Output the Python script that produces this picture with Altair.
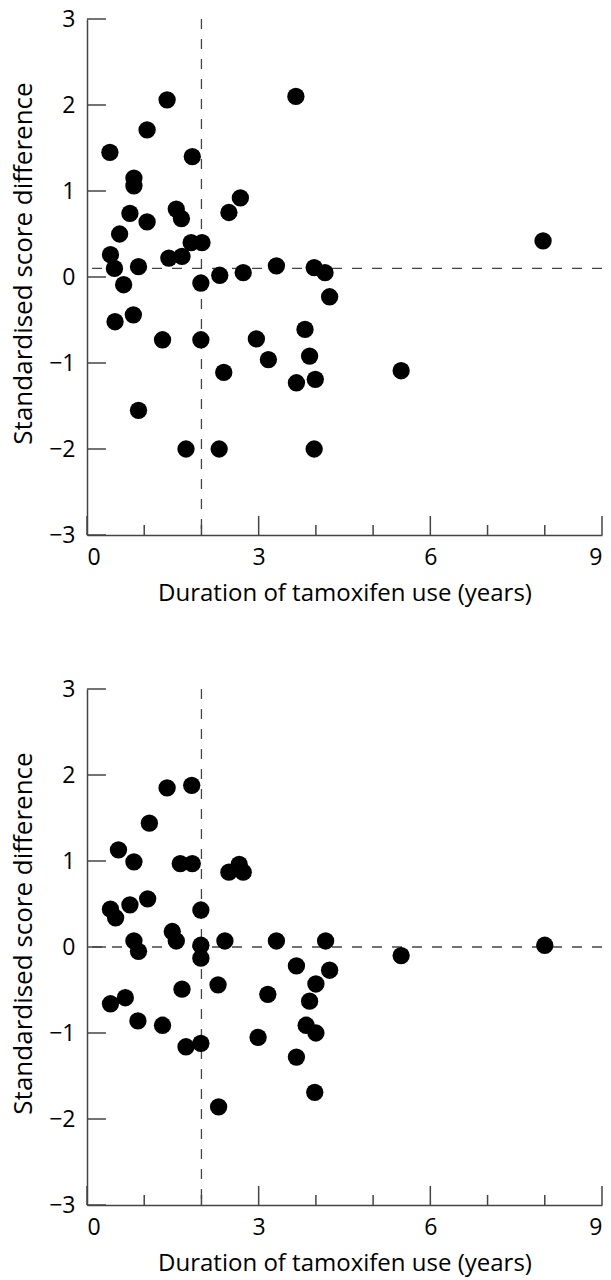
import altair as alt
import pandas as pd

# ---- data ----
top_x = [0.40, 1.40, 3.65, 1.05, 1.84, 0.82, 0.82, 0.75, 1.05, 1.56, 1.65, 2.68, 2.48,
         0.57, 1.82, 2.01, 0.41, 1.43, 1.66, 0.48, 0.90, 3.31, 3.97, 4.16, 2.73, 2.32,
         1.99, 0.64, 4.24, 7.97, 0.81, 0.49, 1.32, 1.99, 2.96, 3.81, 3.89, 3.17, 2.39,
         3.66, 3.99, 5.49, 0.90, 1.73, 2.31, 3.97]
top_y = [1.45, 2.06, 2.10, 1.71, 1.40, 1.15, 1.06, 0.74, 0.64, 0.79, 0.68, 0.92, 0.75,
         0.50, 0.40, 0.40, 0.26, 0.22, 0.24, 0.10, 0.12, 0.13, 0.11, 0.05, 0.05, 0.02,
         -0.07, -0.09, -0.23, 0.42, -0.44, -0.52, -0.73, -0.73, -0.72, -0.61, -0.92,
         -0.96, -1.11, -1.23, -1.19, -1.09, -1.55, -2.00, -2.00, -2.00]

bot_x = [1.40, 1.83, 1.09, 0.55, 0.82, 1.63, 1.84, 2.48, 2.66, 2.73, 0.41, 0.50, 0.75,
         1.06, 1.99, 1.49, 1.56, 0.82, 0.90, 1.99, 1.99, 2.41, 3.31, 4.17, 5.49, 8.00,
         3.66, 4.24, 4.00, 1.66, 2.29, 3.16, 3.89, 0.41, 0.67, 0.89, 1.32, 3.83, 4.00,
         2.99, 1.73, 1.99, 3.66, 3.98, 2.30]
bot_y = [1.85, 1.88, 1.44, 1.13, 0.99, 0.97, 0.97, 0.87, 0.96, 0.87, 0.44, 0.34, 0.49,
         0.56, 0.43, 0.18, 0.07, 0.07, -0.05, 0.02, -0.13, 0.07, 0.07, 0.07, -0.10, 0.02,
         -0.22, -0.27, -0.43, -0.49, -0.44, -0.55, -0.63, -0.66, -0.59, -0.86, -0.91,
         -0.91, -1.00, -1.05, -1.16, -1.12, -1.28, -1.69, -1.86]

ref_x = [2]
ref_y_top = [0.1]
ref_y_bot = [0.0]

y_ticks = [-3, -2, -1, 0, 1, 2, 3]
x_major = [0, 3, 6, 9]
x_minor = [1, 2, 4, 5, 7, 8]

x_title = "Duration of tamoxifen use (years)"
y_title = "Standardised score difference"

W, H = 515, 516
FONT = "Open Sans"
AX = "#444444"

xscale = alt.Scale(domain=[0, 9], nice=False, zero=False)
yscale = alt.Scale(domain=[-3, 3], nice=False, zero=False)
xaxis = alt.Axis(values=x_major, ticks=False, tickSize=0, grid=False,
                 labelPadding=11, labelFontSize=23, labelColor="black",
                 labelFont=FONT, title=x_title, titleFont=FONT,
                 titleFontSize=24, titleFontWeight="normal",
                 titleColor="black", titlePadding=12,
                 domainColor=AX, domainWidth=1.5, format="d")
yaxis = alt.Axis(values=y_ticks, ticks=False, tickSize=0, grid=False,
                 labelPadding=12, labelFontSize=23, labelColor="black",
                 labelFont=FONT, title=y_title, titleFont=FONT,
                 titleFontSize=26, titleFontWeight="normal",
                 titleColor="black", titlePadding=12, titleY=H / 2 - 14,
                 domainColor=AX, domainWidth=1.5, format="d")


def panel(xs, ys, href):
    pts = alt.Chart(pd.DataFrame({"x": xs, "y": ys})).mark_circle(
        size=300, color="black", opacity=1
    ).encode(
        x=alt.X("x:Q", scale=xscale, axis=xaxis),
        y=alt.Y("y:Q", scale=yscale, axis=yaxis),
    )

    vline = alt.Chart(pd.DataFrame({"v": ref_x})).mark_rule(
        color=AX, strokeWidth=1.3, strokeDash=[10, 10]
    ).encode(x=alt.X("v:Q", scale=xscale, axis=xaxis))

    hline = alt.Chart(pd.DataFrame({"h": href})).mark_rule(
        color=AX, strokeWidth=1.3, strokeDash=[10, 10]
    ).encode(y=alt.Y("h:Q", scale=yscale, axis=yaxis))

    yt = alt.Chart(pd.DataFrame({"t": y_ticks})).mark_rule(
        color=AX, strokeWidth=1.5
    ).encode(y=alt.Y("t:Q", scale=yscale, axis=yaxis),
             x=alt.value(0), x2=alt.value(19))

    xtM = alt.Chart(pd.DataFrame({"t": x_major})).mark_rule(
        color=AX, strokeWidth=1.5
    ).encode(x=alt.X("t:Q", scale=xscale, axis=xaxis),
             y=alt.value(H), y2=alt.value(H - 19))

    xtm = alt.Chart(pd.DataFrame({"t": x_minor})).mark_rule(
        color=AX, strokeWidth=1.5
    ).encode(x=alt.X("t:Q", scale=xscale, axis=xaxis),
             y=alt.value(H), y2=alt.value(H - 10))

    return alt.layer(vline, hline, yt, xtM, xtm, pts).properties(width=W, height=H)


chart = alt.vconcat(
    panel(top_x, top_y, ref_y_top),
    panel(bot_x, bot_y, ref_y_bot),
    spacing=154,
    bounds="flush",
).properties(
    padding={"left": 2, "top": 0, "right": 0, "bottom": 6},
    background="white",
).configure_view(
    stroke=None
)

chart.save("out.html", embed_options={"renderer": "svg", "actions": False})
